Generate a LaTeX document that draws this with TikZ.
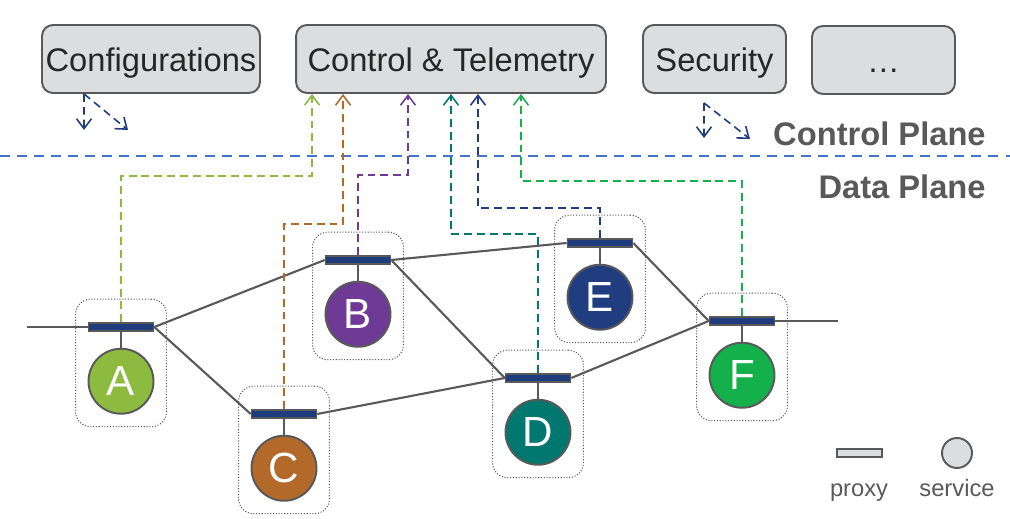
\documentclass[tikz,border=0pt]{standalone}
\usepackage{fontspec}
\setmainfont{Liberation Sans}
\usetikzlibrary{positioning, arrows.meta, fit}

\definecolor{boxgray}{HTML}{DCDDDE}
\definecolor{edgegray}{HTML}{595959}
\definecolor{planeblue}{HTML}{4472C4}
\definecolor{navy}{HTML}{1F3D7C}
\definecolor{svcA}{HTML}{8CBB3F}
\definecolor{svcB}{HTML}{6F3A96}
\definecolor{svcC}{HTML}{B3692A}
\definecolor{svcD}{HTML}{00786F}
\definecolor{svcE}{HTML}{1F3D7F}
\definecolor{svcF}{HTML}{14B04C}

\begin{document}
\begin{tikzpicture}[
        x=0.02cm, y=-0.02cm,
        font=\fontsize{18.6}{22}\selectfont,
        >={Straight Barb[length=0.2cm, width=0.3cm]},
        topbox/.style={rectangle, draw=edgegray, line width=1.1pt, fill=boxgray, rounded corners=0.22cm, minimum height=1.36cm, inner sep=0pt, text height=14.6pt, text depth=0pt, text=black!85},
        proxy/.style={rectangle, draw=edgegray, line width=0.9pt, fill=navy, minimum width=1.3cm, minimum height=0.16cm, inner sep=0pt},
        svc/.style={circle, draw=edgegray, line width=1.1pt, minimum size=1.3cm, inner sep=0pt, text=white, font=\fontsize{24}{28}\selectfont},
        group/.style={rectangle, draw=edgegray, densely dotted, line width=0.6pt, rounded corners=0.3cm, inner sep=0.24cm},
        link/.style={draw=edgegray, line width=1.2pt},
        stem/.style={draw=edgegray, line width=1pt},
        ctrl/.style={->, dash pattern=on 4.5pt off 2.8pt, line width=0.9pt},
        planelabel/.style={font=\bfseries\fontsize{18.6}{22}\selectfont, text=edgegray, inner sep=0pt},
        legendtext/.style={font=\fontsize{13.5}{16}\selectfont, text=edgegray, inner sep=0pt}
    ]
    \useasboundingbox (0,0) rectangle (1010,519);

    % control plane
    \node[topbox, minimum width=4.36cm] (cfg) at (151,59) {Configurations};
    \node[topbox, minimum width=6.2cm] (ctl) at (451,59) {Control \& Telemetry};
    \node[topbox, minimum width=2.86cm] (sec) at (714.5,59) {Security};
    \node[topbox, minimum width=2.86cm] (more) at (883.5,60) {…};

    \draw[planeblue, line width=1.1pt, dash pattern=on 5.7pt off 4pt] (0,156) -- (1010,156);
    \node[planelabel, anchor=base east] (cplane) at (986,146) {Control Plane};
    \node[planelabel, anchor=base east] (dplane) at (986,199) {Data Plane};

    % data plane
    \node[proxy] (pA) at (121,327) {};
    \node[svc, fill=svcA, below=0.32cm of pA] (sA) {A};
    \node[proxy] (pB) at (358,260) {};
    \node[svc, fill=svcB, below=0.32cm of pB] (sB) {B};
    \node[proxy] (pC) at (284,414) {};
    \node[svc, fill=svcC, below=0.32cm of pC] (sC) {C};
    \node[proxy] (pD) at (538,378) {};
    \node[svc, fill=svcD, below=0.32cm of pD] (sD) {D};
    \node[proxy] (pE) at (600,243) {};
    \node[svc, fill=svcE, below=0.32cm of pE] (sE) {E};
    \node[proxy] (pF) at (742,321) {};
    \node[svc, fill=svcF, below=0.32cm of pF] (sF) {F};

    \draw[stem] (pA.south) -- (sA.north);
    \draw[stem] (pB.south) -- (sB.north);
    \draw[stem] (pC.south) -- (sC.north);
    \draw[stem] (pD.south) -- (sD.north);
    \draw[stem] (pE.south) -- (sE.north);
    \draw[stem] (pF.south) -- (sF.north);

    \node[group, fit={([yshift=0.22cm]pA.north) (sA)}] (gA) {};
    \node[group, fit={([yshift=0.22cm]pB.north) (sB)}] (gB) {};
    \node[group, fit={([yshift=0.22cm]pC.north) (sC)}] (gC) {};
    \node[group, fit={([yshift=0.22cm]pD.north) (sD)}] (gD) {};
    \node[group, fit={([yshift=0.22cm]pE.north) (sE)}] (gE) {};
    \node[group, fit={([yshift=0.22cm]pF.north) (sF)}] (gF) {};

    \coordinate (inL) at (27,327);
    \coordinate (outR) at (838,321);
    \draw[link] (inL) -- (pA.west);
    \draw[link] (pA.east) -- (pB.west);
    \draw[link] (pA.east) -- (pC.west);
    \draw[link] (pB.east) -- (pE.west);
    \draw[link] (pB.east) -- (pD.west);
    \draw[link] (pC.east) -- (pD.west);
    \draw[link] (pE.east) -- (pF.west);
    \draw[link] (pD.east) -- (pF.west);
    \draw[link] (pF.east) -- (outR);

    % telemetry from the proxies
    \draw[ctrl, svcA] (pA.north) |- ([xshift=-2.78cm, yshift=-1.64cm]ctl.south) -- ([xshift=-2.78cm]ctl.south);
    \draw[ctrl, svcC] (pC.north) |- ([xshift=-2.16cm, yshift=-2.6cm]ctl.south) -- ([xshift=-2.16cm]ctl.south);
    \draw[ctrl, svcB] (pB.north) |- ([xshift=-0.86cm, yshift=-1.62cm]ctl.south) -- ([xshift=-0.86cm]ctl.south);
    \draw[ctrl, svcD] (pD.north) |- ([yshift=-2.8cm]ctl.south) -- (ctl.south);
    \draw[ctrl, svcE] (pE.north) |- ([xshift=0.54cm, yshift=-2.28cm]ctl.south) -- ([xshift=0.54cm]ctl.south);
    \draw[ctrl, svcF] (pF.north) |- ([xshift=1.4cm, yshift=-1.74cm]ctl.south) -- ([xshift=1.4cm]ctl.south);

    % pushed config
    \coordinate (cfgDown) at (84,130);
    \coordinate (cfgSide) at (128,130);
    \draw[ctrl, navy] ([xshift=-1.34cm]cfg.south) -- (cfgDown);
    \draw[ctrl, navy] ([xshift=-1.34cm]cfg.south) -- (cfgSide);
    \coordinate (secDown) at (704,138);
    \coordinate (secSide) at (750,139);
    \draw[ctrl, navy] ([xshift=-0.21cm, yshift=-0.18cm]sec.south) -- (secDown);
    \draw[ctrl, navy] ([xshift=-0.21cm, yshift=-0.18cm]sec.south) -- (secSide);

    % legend
    \node[proxy, fill=boxgray, minimum width=0.9cm] (lgProxy) at (859.5,453) {};
    \node[svc, fill=boxgray, minimum size=0.6cm] (lgSvc) at (957,453) {};
    \node[legendtext, anchor=base] (lgProxyText) at (859,497) {proxy};
    \node[legendtext, anchor=base] (lgSvcText) at (957,497) {service};
\end{tikzpicture}
\end{document}
